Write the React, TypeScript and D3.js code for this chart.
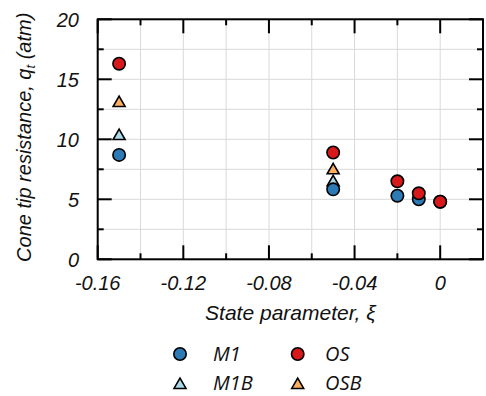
import React from "react";
import * as d3 from "d3";

const xM1 = [-0.15, -0.05, -0.02, -0.01, 0];
const yM1 = [8.7, 5.83, 5.3, 5.0, 4.8];
const xM1B = [-0.15, -0.05];
const yM1B = [10.35, 6.5];
const xOS = [-0.15, -0.05, -0.02, -0.01, 0];
const yOS = [16.3, 8.9, 6.5, 5.5, 4.8];
const xOSB = [-0.15, -0.05];
const yOSB = [13.1, 7.5];

const xMajor = [-0.16, -0.12, -0.08, -0.04, 0];
const xMinor = [-0.14, -0.1, -0.06, -0.02];
const yMajor = [0, 5, 10, 15, 20];
const yMinor = [2.5, 7.5, 12.5, 17.5];
const xTickLabels = ["-0.16", "-0.12", "-0.08", "-0.04", "0"];

const W = 486, H = 396;
const L = 97.7, R = 483, T = 19.3, B = 259.3;
const FONT = "'Liberation Sans', Arial, sans-serif";
const LFONT = "'Open Sans', 'DejaVu Sans', sans-serif";
const C_M1 = "#2c7bb6", C_OS = "#d7191c", C_M1B = "#abd9e9", C_OSB = "#fdae61";

const x = d3.scaleLinear().domain([-0.16, 0.02]).range([L, R]);
const y = d3.scaleLinear().domain([0, 20]).range([B, T]);

const tri = d3.symbol().type(d3.symbolTriangle).size(62);

function Circle({ cx, cy, fill }: { cx: number; cy: number; fill: string }) {
  return <circle cx={cx} cy={cy} r={6.2} fill={fill} stroke="#000" strokeWidth={1.6} />;
}
function Tri({ cx, cy, fill }: { cx: number; cy: number; fill: string }) {
  return (
    <path d={tri() as string} transform={`translate(${cx},${cy + 1})`} fill={fill} stroke="#000" strokeWidth={1.6} strokeLinejoin="miter" />
  );
}

export default function App() {
  const allX = [...xMajor, ...xMinor, 0.02];
  const allY = [...yMajor, ...yMinor];
  return (
    <svg width={W} height={H} style={{ position: "absolute", left: 0, top: 0, background: "#fff" }}>
      {allX.map((v, i) => (
        <line key={"gx" + i} x1={x(v)} x2={x(v)} y1={T} y2={B} stroke="#d9d9d9" strokeWidth={1} />
      ))}
      {allY.map((v, i) => (
        <line key={"gy" + i} x1={L} x2={R} y1={y(v)} y2={y(v)} stroke="#d9d9d9" strokeWidth={1} />
      ))}
      {xMajor.map((v, i) => (
        <g key={"xm" + i}>
          <line x1={x(v)} x2={x(v)} y1={B} y2={B - 14} stroke="#000" strokeWidth={2} />
          <line x1={x(v)} x2={x(v)} y1={T} y2={T + 14} stroke="#000" strokeWidth={2} />
        </g>
      ))}
      {xMinor.map((v, i) => (
        <g key={"xn" + i}>
          <line x1={x(v)} x2={x(v)} y1={B} y2={B - 6} stroke="#000" strokeWidth={2} />
          <line x1={x(v)} x2={x(v)} y1={T} y2={T + 6} stroke="#000" strokeWidth={2} />
        </g>
      ))}
      {yMajor.map((v, i) => (
        <g key={"ym" + i}>
          <line x1={L} x2={L + 14} y1={y(v)} y2={y(v)} stroke="#000" strokeWidth={2} />
          <line x1={R} x2={R - 14} y1={y(v)} y2={y(v)} stroke="#000" strokeWidth={2} />
        </g>
      ))}
      {yMinor.map((v, i) => (
        <g key={"yn" + i}>
          <line x1={L} x2={L + 6} y1={y(v)} y2={y(v)} stroke="#000" strokeWidth={2} />
          <line x1={R} x2={R - 6} y1={y(v)} y2={y(v)} stroke="#000" strokeWidth={2} />
        </g>
      ))}
      <rect x={L} y={T} width={R - L} height={B - T} fill="none" stroke="#000" strokeWidth={2} />
      {xMajor.map((v, i) => (
        <text key={"xl" + i} x={x(v)} y={290} textAnchor="middle" fontFamily={FONT} fontStyle="italic" fontSize={20} fill="#111">
          {xTickLabels[i]}
        </text>
      ))}
      {yMajor.map((v, i) => (
        <text key={"yl" + i} x={79} y={y(v) + 7.2} textAnchor="end" fontFamily={FONT} fontStyle="italic" fontSize={20} fill="#111">
          {v}
        </text>
      ))}
      <text x={(L + R) / 2} y={320} textAnchor="middle" fontFamily={FONT} fontStyle="italic" fontSize={21} fill="#111">
        State parameter, ξ
      </text>
      <text transform={`translate(31,${(T + B) / 2 - 2}) rotate(-90)`} textAnchor="middle" fontFamily={FONT} fontStyle="italic" fontSize={20} fill="#111">
        Cone tip resistance, q<tspan fontSize={13} dy={4}>t</tspan><tspan dy={-4}> (atm)</tspan>
      </text>
      {xM1B.map((v, i) => <Tri key={"m1b" + i} cx={x(v)} cy={y(yM1B[i])} fill={C_M1B} />)}
      {xM1.map((v, i) => <Circle key={"m1" + i} cx={x(v)} cy={y(yM1[i])} fill={C_M1} />)}
      {xOSB.map((v, i) => <Tri key={"osb" + i} cx={x(v)} cy={y(yOSB[i])} fill={C_OSB} />)}
      {xOS.map((v, i) => <Circle key={"os" + i} cx={x(v)} cy={y(yOS[i])} fill={C_OS} />)}
      <Circle cx={180} cy={354} fill={C_M1} />
      <text x={213} y={360.7} fontFamily={LFONT} fontStyle="italic" fontSize={20} fill="#111">M1</text>
      <Circle cx={297.7} cy={354} fill={C_OS} />
      <text x={325} y={360.7} fontFamily={LFONT} fontStyle="italic" fontSize={20} fill="#111">OS</text>
      <Tri cx={180} cy={384} fill={C_M1B} />
      <text x={213} y={390} fontFamily={LFONT} fontStyle="italic" fontSize={20} fill="#111">M1B</text>
      <Tri cx={297.7} cy={384} fill={C_OSB} />
      <text x={325} y={390} fontFamily={LFONT} fontStyle="italic" fontSize={20} fill="#111">OSB</text>
    </svg>
  );
}
